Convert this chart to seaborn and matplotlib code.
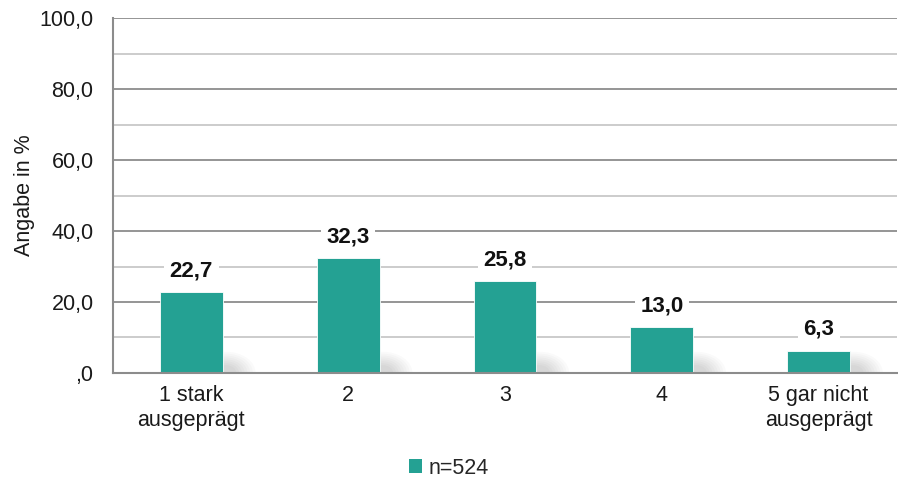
import matplotlib
matplotlib.use("Agg")
import matplotlib.pyplot as plt
import seaborn as sns
import pandas as pd
from matplotlib.patches import Patch, Ellipse

categories = ["1 stark\nausgeprägt", "2", "3", "4", "5 gar nicht\nausgeprägt"]
values = [22.7, 32.3, 25.8, 13.0, 6.3]
series_name = "n=524"
yticks = [0, 20, 40, 60, 80, 100]
ytick_labels = [",0", "20,0", "40,0", "60,0", "80,0", "100,0"]

sns.set_theme(style="white")
plt.rcParams["font.family"] = ["Liberation Sans", "DejaVu Sans"]

color = "#24A193"
fs = 15.5
df = pd.DataFrame({"cat": categories, "val": values})

fig = plt.figure(figsize=(8.98, 4.79), dpi=100)
ax = fig.add_axes([0.1258, 0.2213, 0.8731, 0.7411])

sns.barplot(data=df, x="cat", y="val", color=color, width=0.4, ax=ax,
            saturation=1, edgecolor="white", linewidth=0.6, zorder=3)

ax.set_ylim(0, 100)
ax.set_xlim(-0.5, len(categories) - 0.5)
for y in range(10, 101, 10):
    major = (y % 20 == 0)
    ax.axhline(y, color="#8c8c8c" if major else "#c8c8c8", lw=1.3, zorder=1)

# soft shadows at the right foot of each bar
for patch, v in zip(ax.patches, values):
    xr = patch.get_x() + patch.get_width()
    h = min(v, 6.0)
    for k in range(8):
        e = Ellipse((xr + 0.02, 0), width=0.38 - k * 0.035, height=2 * h * (1 - k * 0.09),
                    facecolor="#000000", edgecolor="none", alpha=0.02, zorder=2)
        ax.add_patch(e)

ax.set_yticks(yticks)
ax.set_yticklabels(ytick_labels, fontsize=fs, color="#1a1a1a")
ax.set_xticks(range(len(categories)))
ax.set_xticklabels(categories, fontsize=fs, color="#1a1a1a", linespacing=1.2)
ax.tick_params(axis="x", length=0, pad=9)
ax.tick_params(axis="y", length=0, pad=14)
ax.set_xlabel("")
ax.set_ylabel("Angabe in %", fontsize=fs, color="#1a1a1a", labelpad=3)

for s in ["top", "right"]:
    ax.spines[s].set_visible(False)
for s in ["left", "bottom"]:
    ax.spines[s].set_color("#8c8c8c")
    ax.spines[s].set_linewidth(1.5)
    ax.spines[s].set_zorder(4)

for i, v in enumerate(values):
    ax.text(i, v + 6.0, f"{v:.1f}".replace(".", ","), ha="center", va="center",
            fontsize=16, fontweight="bold", color="#111111", zorder=5,
            bbox=dict(boxstyle="square,pad=0.25", fc="white", ec="none"))

handles = [Patch(facecolor=color, edgecolor="none", label=series_name)]
fig.legend(handles=handles, loc="lower center", bbox_to_anchor=(0.5, -0.04),
           frameon=False, fontsize=fs, handlelength=0.6, handleheight=0.6,
           handletextpad=0.3)

fig.savefig("out.png", dpi=100)
